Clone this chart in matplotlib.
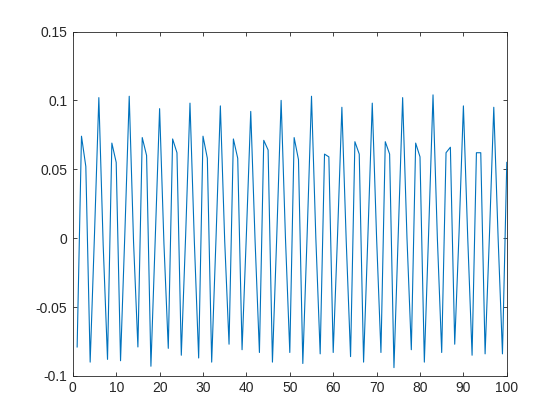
import matplotlib
matplotlib.use("Agg")
import matplotlib.pyplot as plt
from matplotlib.ticker import FixedLocator

# Sample index (MATLAB-style plot(y): x = 1..100)
x_start = 1
signal = [
    -0.079,
    0.074, 0.052, -0.090, 0.003, 0.102, -0.005, -0.088,
    0.069, 0.055, -0.089, 0.004, 0.103, -0.003, -0.079,
    0.073, 0.060, -0.093, 0.000, 0.094, -0.004, -0.080,
    0.072, 0.062, -0.085, 0.002, 0.098, -0.002, -0.087,
    0.074, 0.058, -0.090, 0.000, 0.096, -0.002, -0.077,
    0.072, 0.058, -0.081, 0.003, 0.092, -0.002, -0.083,
    0.071, 0.064, -0.090, 0.002, 0.100, 0.000, -0.083,
    0.073, 0.057, -0.091, 0.003, 0.103, 0.000, -0.084,
    0.061, 0.059, -0.083, 0.002, 0.095, -0.002, -0.086,
    0.070, 0.061, -0.090, 0.002, 0.098, 0.000, -0.083,
    0.070, 0.061, -0.094, 0.004, 0.102, 0.000, -0.081,
    0.069, 0.059, -0.090, 0.005, 0.104, 0.000, -0.083,
    0.062, 0.066, -0.077, 0.004, 0.096, 0.000, -0.085,
    0.062, 0.062, -0.084, 0.002, 0.095, 0.000, -0.084,
    0.055,
]
x_vals = list(range(x_start, x_start + len(signal)))

x_ticks = [0, 10, 20, 30, 40, 50, 60, 70, 80, 90, 100]
y_ticks = [-0.1, -0.05, 0, 0.05, 0.1, 0.15]
y_tick_labels = ["-0.1", "-0.05", "0", "0.05", "0.1", "0.15"]

plt.rcParams['font.family'] = ['Liberation Sans', 'DejaVu Sans']

fig = plt.figure(figsize=(5.6, 4.2), dpi=100)
ax = fig.add_axes([0.13, 0.105, 0.775, 0.82])
ax.plot(x_vals, signal, color='#0072BD', linewidth=0.8)

ax.set_xlim(0, 100)
ax.set_ylim(-0.1, 0.15)
ax.xaxis.set_major_locator(FixedLocator(x_ticks))
ax.yaxis.set_major_locator(FixedLocator(y_ticks))
ax.set_xticklabels([str(t) for t in x_ticks])
ax.set_yticklabels(y_tick_labels)

axis_color = '#262626'
for s in ax.spines.values():
    s.set_color(axis_color)
    s.set_linewidth(0.6)
ax.tick_params(direction='in', length=3.2, width=0.6, colors=axis_color,
               labelcolor=axis_color, labelsize=10, top=True, right=True, pad=4)

fig.savefig('out.png', dpi=100, facecolor='white')
